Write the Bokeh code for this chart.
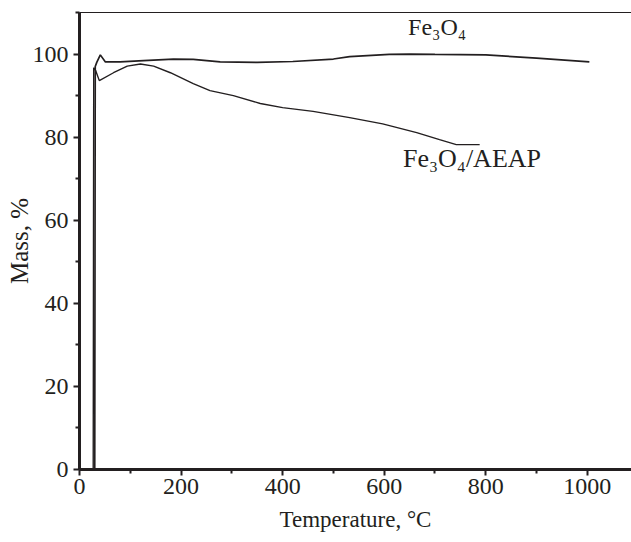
from bokeh.plotting import figure
from bokeh.models import Range1d, FixedTicker, LinearAxis, Label
from bokeh.embed import file_html
from bokeh.resources import INLINE

# Data (temperature in °C, mass in %)
temp_fe3o4 = [0, 30, 31, 34, 41, 51, 80, 126, 185, 224, 277, 350, 420, 500,
              532, 610, 650, 700, 800, 900, 1004]
mass_fe3o4 = [0, 0, 97.0, 98.0, 99.8, 98.1, 98.1, 98.4, 98.8, 98.7, 98.1, 98.0,
              98.2, 98.8, 99.4, 99.9, 100.0, 99.9, 99.8, 99.0, 98.1]

temp_aeap = [0, 27, 28, 32, 39, 67, 94, 120, 146, 179, 224, 257, 303, 356,
             400, 460, 532, 597, 664, 709, 742, 788]
mass_aeap = [0, 0, 96.7, 96.0, 93.6, 95.5, 97.1, 97.6, 97.1, 95.5, 92.9, 91.2,
             90.0, 88.1, 87.1, 86.2, 84.7, 83.2, 81.1, 79.4, 78.2, 78.2]

x_ticks = [0, 200, 400, 600, 800, 1000]
x_minor = [100, 300, 500, 700, 900]
y_ticks = [0, 20, 40, 60, 80, 100]
y_minor = [10, 30, 50, 70, 90, 110]

label_fe3o4 = "Fe₃O₄"
label_aeap = "Fe₃O₄/AEAP"

FONT = "Liberation Serif"
INK = "#231f20"

p = figure(width=631, height=542, output_backend="svg", toolbar_location=None,
           x_range=Range1d(0, 1087), y_range=Range1d(0, 110),
           min_border_left=79, min_border_right=0, min_border_top=12,
           min_border_bottom=73)
p.background_fill_color = "white"
p.border_fill_color = "white"
p.outline_line_color = None
p.grid.visible = False

p.line(temp_aeap, mass_aeap, line_color=INK, line_width=1.4)
p.line(temp_fe3o4, mass_fe3o4, line_color=INK, line_width=1.7)

for ax, ticks, minor in ((p.xaxis[0], x_ticks, x_minor), (p.yaxis[0], y_ticks, y_minor)):
    ax.ticker = FixedTicker(ticks=ticks, minor_ticks=minor)
    ax.axis_line_color = INK
    ax.axis_line_width = 3
    ax.major_tick_line_color = INK
    ax.major_tick_line_width = 2
    ax.minor_tick_line_color = INK
    ax.minor_tick_line_width = 2
    ax.major_tick_in = 0
    ax.major_tick_out = 6
    ax.minor_tick_in = 0
    ax.minor_tick_out = 4
    ax.major_label_text_font = FONT
    ax.major_label_text_font_size = "24px"
    ax.major_label_text_color = INK
    ax.axis_label_text_font = FONT
    ax.axis_label_text_font_style = "normal"
    ax.axis_label_text_color = INK

p.xaxis.axis_label = "Temperature, °C"
p.yaxis.axis_label = "Mass, %"
p.xaxis.axis_label_text_font_size = "23px"
p.yaxis.axis_label_text_font_size = "25px"
p.xaxis.major_label_standoff = 3
p.xaxis.axis_label_standoff = 10
p.yaxis.major_label_standoff = 5
p.yaxis.axis_label_standoff = -3

top = LinearAxis(ticker=FixedTicker(ticks=[]), axis_line_color=INK, axis_line_width=1.2,
                 major_tick_out=0, major_tick_in=0, minor_tick_out=0, minor_tick_in=0,
                 major_label_text_font_size="0px", major_label_standoff=0)
p.add_layout(top, "above")

p.add_layout(Label(x=647, y=103.4, text=label_fe3o4, text_font=FONT,
                   text_font_size="24px", text_color=INK))
p.add_layout(Label(x=637, y=71.4, text=label_aeap, text_font=FONT,
                   text_font_size="26px", text_color=INK))

open("out.html", "w").write(file_html(p, INLINE))
